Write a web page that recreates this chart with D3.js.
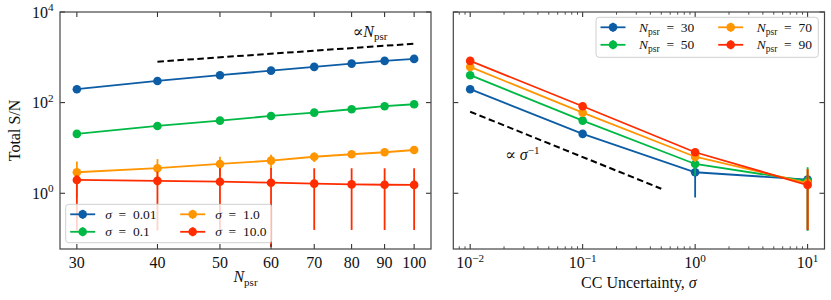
<!DOCTYPE html>
<html><head><meta charset="utf-8">
<script src="https://cdn.jsdelivr.net/npm/d3@7/dist/d3.min.js"></script>
<style>
html,body{margin:0;padding:0;background:#fff;}
svg text{font-family:"Liberation Serif","DejaVu Serif",serif;fill:#111;}
</style></head>
<body><svg id="chart" width="831" height="300"></svg>
<script>
// ---------------- data ----------------
const nPsr = [30, 40, 50, 60, 70, 80, 90, 100];
const sigmaLabels = ["0.01", "0.1", "1.0", "10.0"];
const snrSigma001 = [198, 301, 403, 508, 614, 727, 833, 923];
const snrSigma01  = [20.4, 30.6, 40.1, 50.8, 60.1, 71.4, 83.3, 92.2];
const snrSigma1   = [2.91, 3.57, 4.43, 5.25, 6.4, 7.26, 8.04, 9.0];
const snrSigma1Err = [2.1, 2.1, 2.0, 1.8, 1.5, 1.2, 1.0, 0.8];
const snrSigma10  = [1.97, 1.88, 1.80, 1.71, 1.63, 1.57, 1.54, 1.53];
const snrSigma10Lo = [0.15, 0.15, 0.15, 0.065, 0.155, 0.155, 0.155, 0.155];
const snrSigma10Hi = [2.5, 3.0, 3.6, 3.6, 3.56, 3.56, 3.56, 3.56];

const sigmaVals = [0.01, 0.1, 1.0, 10.0];
const nPsrLabels = ["30", "50", "70", "90"];
const snrN30 = [198, 20.4, 2.91, 2.0];
const snrN30Lo = [198, 20.4, 0.81, 0.15];
const snrN30Hi = [198, 20.4, 5.0, 2.5];
const snrN50 = [403, 40.1, 4.43, 1.85];
const snrN50Lo = [403, 40.1, 2.43, 0.15];
const snrN50Hi = [403, 40.1, 6.43, 3.75];
const snrN70 = [614, 60.1, 6.4, 1.68];
const snrN70Lo = [614, 60.1, 4.9, 0.155];
const snrN70Hi = [614, 60.1, 7.9, 3.45];
const snrN90 = [833, 83.3, 8.04, 1.52];
const snrN90Lo = [833, 83.3, 7.04, 0.155];
const snrN90Hi = [833, 83.3, 9.04, 3.4];

const colors = ["#0C5DA5", "#00B945", "#FF9500", "#FF2C00"];

// reference guide lines
const guideN = [40, 100];
const guideNVals = guideN.map(n => 20 * n);          // ∝ N_psr
const guideSigma = [0.01, 0.5];
const guideSigmaVals = guideSigma.map(s => 0.63 / s); // ∝ σ^-1

// ---------------- layout ----------------
const svg = d3.select("#chart");
const yTop = 12, yBot = 249;
const L = {x0: 60, x1: 431};
const R = {x0: 453.3, x1: 824.5};
const FS = 16;

const y = d3.scaleLog().domain([Math.pow(10, -1.23), 1e4]).range([yBot, yTop]);
const lpad = 0.05 * Math.log10(100 / 30);
const xL = d3.scaleLog().domain([Math.pow(10, Math.log10(30) - lpad), Math.pow(10, 2 + lpad)]).range([L.x0, L.x1]);
const xR = d3.scaleLog().domain([Math.pow(10, -2.15), Math.pow(10, 1.15)]).range([R.x0, R.x1]);

const defs = svg.append("defs");
function clip(id, P) {
  defs.append("clipPath").attr("id", id).append("rect")
    .attr("x", P.x0).attr("y", yTop).attr("width", P.x1 - P.x0).attr("height", yBot - yTop);
}
clip("clipL", L); clip("clipR", R);

function drawSeries(g, x, xs, ys, lo, hi, color) {
  xs.forEach((xv, i) => {
    if (lo && hi && hi[i] > lo[i]) {
      g.append("line").attr("x1", x(xv)).attr("x2", x(xv))
        .attr("y1", y(Math.max(lo[i], 1e-3))).attr("y2", y(hi[i]))
        .attr("stroke", color).attr("stroke-width", 1.8);
    }
  });
  const line = d3.line().x((d, i) => x(xs[i])).y(d => y(d));
  g.append("path").datum(ys).attr("d", line).attr("fill", "none")
    .attr("stroke", color).attr("stroke-width", 1.8);
  g.selectAll(null).data(ys).enter().append("circle")
    .attr("cx", (d, i) => x(xs[i])).attr("cy", d => y(d)).attr("r", 4.3)
    .attr("fill", color);
}

function frame(P, x, xMajor, xMinor, yMajor) {
  const g = svg.append("g");
  const tc = "#222", tw = 1;
  xMajor.forEach(v => {
    const px = x(v);
    g.append("line").attr("x1", px).attr("x2", px).attr("y1", yBot).attr("y2", yBot - 5).attr("stroke", tc).attr("stroke-width", tw);
    g.append("line").attr("x1", px).attr("x2", px).attr("y1", yTop).attr("y2", yTop + 5).attr("stroke", tc).attr("stroke-width", tw);
  });
  xMinor.forEach(v => {
    const px = x(v);
    if (px < P.x0 || px > P.x1) return;
    g.append("line").attr("x1", px).attr("x2", px).attr("y1", yBot).attr("y2", yBot - 2.7).attr("stroke", tc).attr("stroke-width", 0.8);
    g.append("line").attr("x1", px).attr("x2", px).attr("y1", yTop).attr("y2", yTop + 2.7).attr("stroke", tc).attr("stroke-width", 0.8);
  });
  yMajor.forEach(v => {
    const py = y(v);
    g.append("line").attr("x1", P.x0).attr("x2", P.x0 + 5).attr("y1", py).attr("y2", py).attr("stroke", tc).attr("stroke-width", tw);
    g.append("line").attr("x1", P.x1).attr("x2", P.x1 - 5).attr("y1", py).attr("y2", py).attr("stroke", tc).attr("stroke-width", tw);
  });
  g.append("rect").attr("x", P.x0).attr("y", yTop).attr("width", P.x1 - P.x0).attr("height", yBot - yTop)
    .attr("fill", "none").attr("stroke", "#444").attr("stroke-width", 1.2);
}

function powLabel(sel, base, exp, size) {
  sel.append("tspan").text(base);
  sel.append("tspan").attr("dy", -6.5).attr("font-size", size * 0.7).text(exp);
}

function legend(x0, y0, w, h, items, textStart, colX) {
  const g = svg.append("g");
  g.append("rect").attr("x", x0).attr("y", y0).attr("width", w).attr("height", h).attr("rx", 3)
    .attr("fill", "#fff").attr("fill-opacity", 0.8).attr("stroke", "#d0d0d0").attr("stroke-width", 1);
  items.forEach((it, k) => {
    const col = Math.floor(k / 2), row = k % 2;
    const lx = x0 + 4.5 + colX[col], ly = y0 + 10 + row * 17.5;
    g.append("line").attr("x1", lx).attr("x2", lx + 25).attr("y1", ly).attr("y2", ly).attr("stroke", it.color).attr("stroke-width", 1.8);
    g.append("line").attr("x1", lx + 12.5).attr("x2", lx + 12.5).attr("y1", ly - 4.5).attr("y2", ly + 4.5).attr("stroke", it.color).attr("stroke-width", 1.8);
    g.append("circle").attr("cx", lx + 12.5).attr("cy", ly).attr("r", 4.3).attr("fill", it.color);
    const t = g.append("text").attr("x", lx + textStart).attr("y", ly + 4.5).attr("font-size", 13.5);
    it.render(t);
  });
}

// ---------------- left panel ----------------
const gL = svg.append("g").attr("clip-path", "url(#clipL)");
gL.append("path").datum(guideNVals)
  .attr("d", d3.line().x((d, i) => xL(guideN[i])).y(d => y(d)))
  .attr("stroke", "#000").attr("stroke-width", 2).attr("stroke-dasharray", "6.5,3.5").attr("fill", "none");
drawSeries(gL, xL, nPsr, snrSigma001, null, null, colors[0]);
drawSeries(gL, xL, nPsr, snrSigma01, null, null, colors[1]);
drawSeries(gL, xL, nPsr, snrSigma1, snrSigma1.map((v, i) => v - snrSigma1Err[i]), snrSigma1.map((v, i) => v + snrSigma1Err[i]), colors[2]);
drawSeries(gL, xL, nPsr, snrSigma10, snrSigma10Lo, snrSigma10Hi, colors[3]);
frame(L, xL, nPsr, [], [1, 100, 1e4]);

nPsr.forEach(n => {
  svg.append("text").attr("x", xL(n)).attr("y", 268).attr("text-anchor", "middle").attr("font-size", FS).text(n);
});
[[1, "0"], [100, "2"], [1e4, "4"]].forEach(([v, e]) => {
  const t = svg.append("text").attr("x", 53.5).attr("y", y(v) + 5.5).attr("text-anchor", "end").attr("font-size", FS);
  powLabel(t, "10", e, FS);
});
{
  const t = svg.append("text").attr("x", (L.x0 + L.x1) / 2).attr("y", 282).attr("text-anchor", "middle").attr("font-size", FS);
  t.append("tspan").attr("font-style", "italic").text("N");
  t.append("tspan").attr("dy", 3.5).attr("font-size", 11).text("psr");
}
svg.append("text").attr("transform", "translate(19.5," + ((yTop + yBot) / 2) + ") rotate(-90)")
  .attr("text-anchor", "middle").attr("font-size", FS).text("Total S/N");
{
  const t = svg.append("text").attr("x", 352.5).attr("y", 36.5).attr("font-size", FS);
  t.append("tspan").text("\u221D");
  t.append("tspan").attr("font-style", "italic").text("N");
  t.append("tspan").attr("dy", 3.5).attr("font-size", 11).text("psr");
}
legend(65.7, 204.3, 206, 38.4,
  sigmaLabels.map((s, k) => ({color: colors[k], render: t => {
    t.append("tspan").attr("font-style", "italic").text("\u03C3");
    t.append("tspan").text("\u2002=\u2002" + s);
  }})), 35, [0, 110]);

// ---------------- right panel ----------------
const gR = svg.append("g").attr("clip-path", "url(#clipR)");
gR.append("path").datum(guideSigmaVals)
  .attr("d", d3.line().x((d, i) => xR(guideSigma[i])).y(d => y(d)))
  .attr("stroke", "#000").attr("stroke-width", 2).attr("stroke-dasharray", "6.5,3.5").attr("fill", "none");
drawSeries(gR, xR, sigmaVals, snrN30, snrN30Lo, snrN30Hi, colors[0]);
drawSeries(gR, xR, sigmaVals, snrN50, snrN50Lo, snrN50Hi, colors[1]);
drawSeries(gR, xR, sigmaVals, snrN70, snrN70Lo, snrN70Hi, colors[2]);
drawSeries(gR, xR, sigmaVals, snrN90, snrN90Lo, snrN90Hi, colors[3]);

const rMajor = [0.01, 0.1, 1, 10];
const rMinor = [];
[-3, -2, -1, 0, 1].forEach(d => { for (let s = 2; s <= 9; s++) rMinor.push(s * Math.pow(10, d)); });
frame(R, xR, rMajor, rMinor, [1, 100, 1e4]);
[[0.01, "\u22122"], [0.1, "\u22121"], [1, "0"], [10, "1"]].forEach(([v, e]) => {
  const t = svg.append("text").attr("x", xR(v)).attr("y", 268).attr("text-anchor", "middle").attr("font-size", FS);
  powLabel(t, "10", e, FS);
});
{
  const t = svg.append("text").attr("x", (R.x0 + R.x1) / 2).attr("y", 288).attr("text-anchor", "middle").attr("font-size", FS);
  t.append("tspan").text("CC Uncertainty, ");
  t.append("tspan").attr("font-style", "italic").text("\u03C3");
}
{
  const t = svg.append("text").attr("x", 505).attr("y", 160).attr("font-size", FS);
  t.append("tspan").text("\u221D ");
  t.append("tspan").attr("font-style", "italic").text("\u03C3");
  t.append("tspan").attr("dy", -6.5).attr("font-size", 11).text("\u22121");
}
legend(596, 17.3, 222.3, 40,
  nPsrLabels.map((s, k) => ({color: colors[k], render: t => {
    t.append("tspan").attr("font-style", "italic").text("N");
    t.append("tspan").attr("dy", 3).attr("font-size", 9.5).text("psr");
    t.append("tspan").attr("dy", -3).text("\u2002=\u2002" + s);
  }})), 38.5, [0, 117.7]);
</script></body></html>
